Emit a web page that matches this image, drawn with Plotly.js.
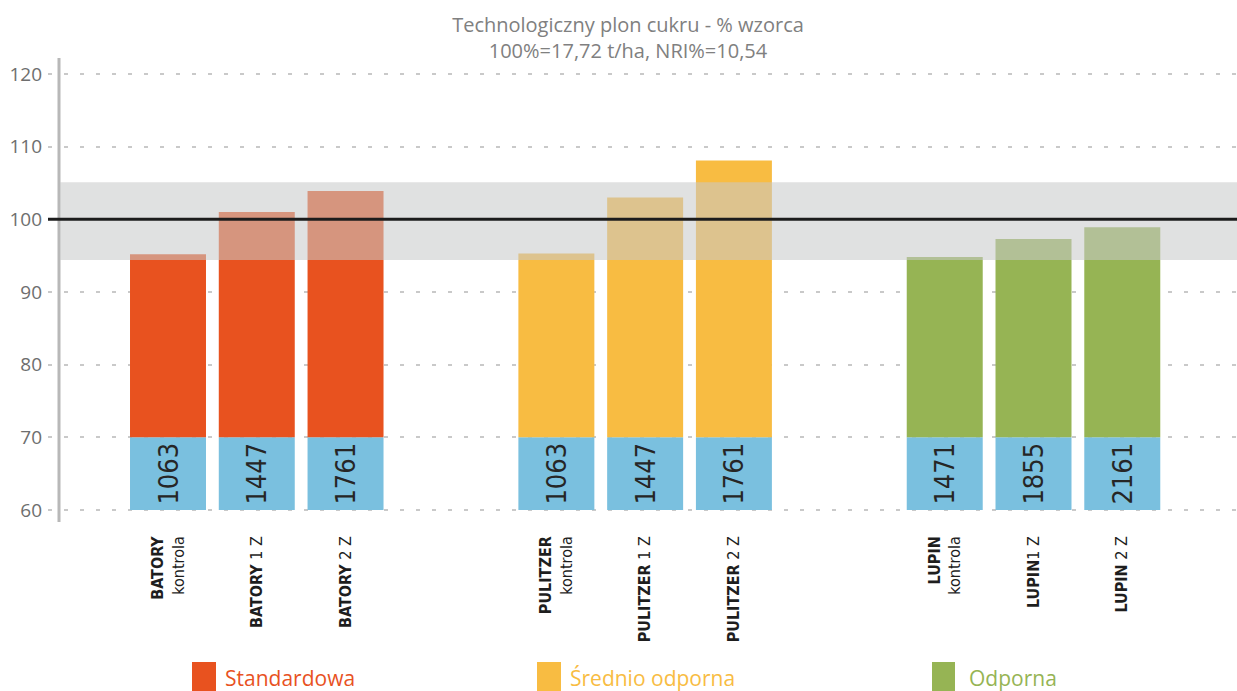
<!DOCTYPE html>
<html>
<head>
<meta charset="utf-8">
<script src="https://cdn.plot.ly/plotly-3.0.1.min.js"></script>
<style>html,body{margin:0;padding:0;background:#fff;}#chart{width:1237px;height:691px;}</style>
</head>
<body>
<div id="chart"></div>
<script>
// ---- data ----
const varieties = ['BATORY', 'PULITZER', 'LUPIN'];
const treatments = ['kontrola', '1 Z', '2 Z'];
const groupNames = ['Standardowa', 'Średnio odporna', 'Odporna'];
const batoryValues = [95.2, 101.0, 103.9];
const pulitzerValues = [95.3, 103.0, 108.1];
const lupinValues = [94.8, 97.3, 98.9];
const batoryCounts = ['1063', '1447', '1761'];
const pulitzerCounts = ['1063', '1447', '1761'];
const lupinCounts = ['1471', '1855', '2161'];
const tickLabels = [
  '<b>BATORY</b><br>kontrola', '<b>BATORY</b> 1 Z', '<b>BATORY</b> 2 Z',
  '<b>PULITZER</b><br>kontrola', '<b>PULITZER</b> 1 Z', '<b>PULITZER</b> 2 Z',
  '<b>LUPIN</b><br>kontrola', '<b>LUPIN</b>1 Z', '<b>LUPIN</b> 2 Z'
];
const yTicks = [60, 70, 80, 90, 100, 110, 120];
const referenceLevel = 100;
const bandLow = 94.4, bandHigh = 105.1;
const baseLow = 60, baseHigh = 70;

// ---- styling / layout ----
const colors = ['#E8521F', '#F8BC42', '#96B454'];
const blue = '#7AC0DF';
const GROUP_STEP = 4.375;
const BAR_W = 0.856;
const groupValues = [batoryValues, pulitzerValues, lupinValues];
const groupCounts = [batoryCounts, pulitzerCounts, lupinCounts];

const allX = [], allCounts = [];
const traces = [];
groupValues.forEach((vals, g) => {
  const xs = vals.map((v, i) => g * GROUP_STEP + i);
  xs.forEach((x, i) => { allX.push(x); allCounts.push(groupCounts[g][i]); });
  traces.push({
    type: 'bar', x: xs, y: vals.map(v => v - baseHigh), base: baseHigh,
    width: BAR_W, marker: {color: colors[g], line: {width: 0}},
    name: groupNames[g], showlegend: false, hoverinfo: 'skip'
  });
});
traces.unshift({
  type: 'bar', x: allX, y: allX.map(() => baseHigh - baseLow), base: baseLow,
  width: BAR_W, marker: {color: blue, line: {width: 0}},
  text: allCounts, textposition: 'inside', insidetextanchor: 'middle',
  textangle: -90, constraintext: 'none',
  textfont: {family: '"Liberation Sans Narrow", "DejaVu Sans Condensed", "Liberation Sans", sans-serif', size: 27, color: '#262626'},
  showlegend: false, hoverinfo: 'skip'
});

const L = 48, R = 1237, T = 58, B = 522;
const pxPerUnit = 88.77;
const x0px = 168;
const xRange = [(L - x0px) / pxPerUnit, (R - x0px) / pxPerUnit];
const yRange = [58.35, 122.2];
const px2paperX = px => (px - L) / (R - L);
const px2paperY = py => (B - py) / (B - T);
const axisX = px2paperX(59);

const shapes = [
  {type: 'line', xref: 'paper', yref: 'paper', x0: axisX, x1: axisX, y0: 0, y1: 1,
   line: {color: '#b8b8b8', width: 3}, layer: 'above'},
  {type: 'rect', xref: 'paper', yref: 'y', x0: px2paperX(60), x1: 1, y0: bandLow, y1: bandHigh,
   fillcolor: 'rgba(200,201,201,0.56)', line: {width: 0}, layer: 'above'},
  {type: 'line', xref: 'paper', yref: 'y', x0: 0, x1: 1, y0: referenceLevel, y1: referenceLevel,
   line: {color: '#1c1c1c', width: 3}, layer: 'above'}
];

const legendSquares = [[192, 216], [537, 561], [932, 955]];
const legendTextX = [223, 568, 967];
const annotations = [];
groupNames.forEach((n, g) => {
  shapes.push({type: 'rect', xref: 'paper', yref: 'paper',
    x0: px2paperX(legendSquares[g][0]), x1: px2paperX(legendSquares[g][1]),
    y0: px2paperY(691), y1: px2paperY(662),
    fillcolor: colors[g], line: {width: 0}});
  annotations.push({xref: 'paper', yref: 'paper', x: px2paperX(legendTextX[g]), y: px2paperY(678),
    xanchor: 'left', yanchor: 'middle', showarrow: false, text: n,
    font: {family: '"Open Sans", "Noto Sans", sans-serif', size: 21, color: colors[g]}});
});

const layout = {
  width: 1237, height: 691,
  margin: {l: L, r: 1237 - R, t: T, b: 691 - B, pad: 0},
  paper_bgcolor: '#ffffff', plot_bgcolor: '#ffffff',
  title: {
    text: 'Technologiczny plon cukru - % wzorca<br>100%=17,72 t/ha, NRI%=10,54',
    font: {family: '"Open Sans", "Noto Sans", sans-serif', size: 20, color: '#808080'},
    x: 628 / 1237, xanchor: 'center', xref: 'container',
    y: 1 - 32 / 691, yanchor: 'top', yref: 'container'
  },
  showlegend: false,
  barmode: 'overlay',
  xaxis: {
    range: xRange, tickmode: 'array', tickvals: allX, ticktext: tickLabels,
    tickangle: -90, showgrid: false, zeroline: false, showline: false, ticks: '',
    ticklabelstandoff: 10,
    tickfont: {family: '"Liberation Sans Narrow", "DejaVu Sans Condensed", "Liberation Sans", sans-serif', size: 16, color: '#1e1e1e'}
  },
  yaxis: {
    range: yRange, tickmode: 'array', tickvals: yTicks, ticktext: yTicks.map(String),
    showgrid: true, gridcolor: '#c9c9c9', gridwidth: 2, griddash: '4px,12px',
    zeroline: false, showline: false, ticks: '', ticklabelstandoff: 5,
    tickfont: {family: '"Open Sans", "Noto Sans", sans-serif', size: 19, color: '#6e6e6e'}
  },
  shapes: shapes,
  annotations: annotations
};

Plotly.newPlot('chart', traces, layout, {displayModeBar: false, staticPlot: true});
</script>
</body>
</html>
